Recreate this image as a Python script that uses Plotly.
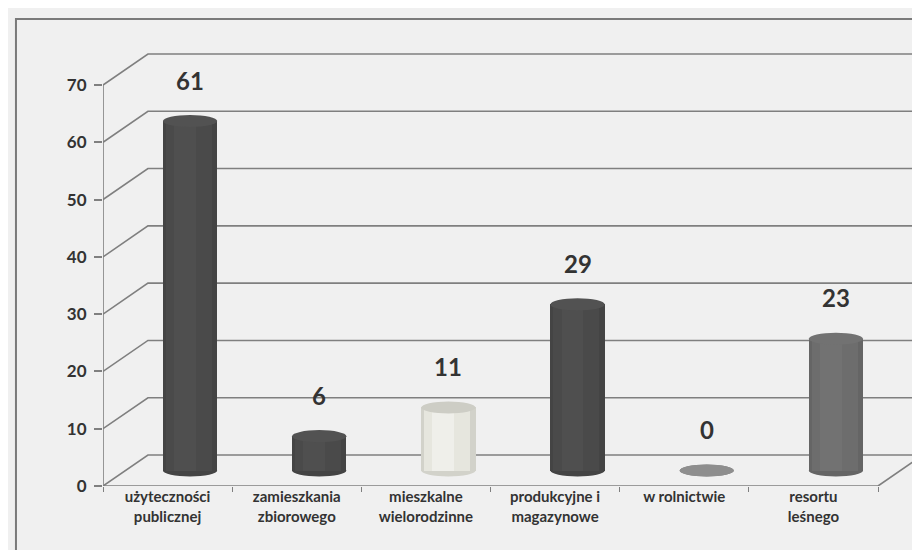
import plotly.graph_objects as go

# ---- data ----
categories = ["użyteczności<br>publicznej", "zamieszkania<br>zbiorowego", "mieszkalne<br>wielorodzinne",
              "produkcyjne i<br>magazynowe", "w rolnictwie", "resortu<br>leśnego"]
values = [61, 6, 11, 29, 0, 23]
y_ticks = [0, 10, 20, 30, 40, 50, 60, 70]

# ---- styling ----
bar_colors = ["#4a4a4a", "#4a4a4a", "#e6e6de", "#4a4a4a", "#8e8e8e", "#6d6d6d"]
edge_colors = ["#444444", "#444444", "#d2d2ca", "#444444", "#848484", "#656565"]
hi_colors = ["#4f4f4f", "#4f4f4f", "#efefea", "#4f4f4f", "#959595", "#727272"]
cap_colors = ["#525252", "#525252", "#cdcdc5", "#525252", "#8e8e8e", "#727272"]
BG = "#f0f0f0"
GRID = "#7f7f7f"
TXT = "#333333"
FONT = "Lato"

# 3D projection parameters (in axis units)
DX, DY = 0.348, 5.41        # depth offset of back wall
MX, MY = DX / 2, DY / 2     # bars stand at mid depth
BW = 0.42                   # cylinder width
EH = 2.1                    # ellipse height (value units)

n = len(categories)
xs = list(range(n))
xc = [x + MX for x in xs]

fig = go.Figure()

# cylinder bodies: layered bars for subtle shading
layers = [(1.0, edge_colors, 0.0), (0.85, bar_colors, -0.01), (0.4, hi_colors, -0.04)]
for frac, cols, off in layers:
    fig.add_trace(go.Bar(
        x=[c + off for c in xc], y=values, base=[MY] * n, width=BW * frac,
        marker=dict(color=cols, line=dict(width=0)), hoverinfo="skip", showlegend=False))

shapes = []
# back wall gridlines with slanted left part
x_left, x_right = -0.5, n - 0.5
for v in y_ticks:
    shapes.append(dict(type="path", layer="below",
                       path=f"M {x_left},{v} L {x_left + DX},{v + DY} L {x_right + DX},{v + DY}",
                       line=dict(color=GRID, width=1.6)))
# floor front edge and right slant edge
shapes.append(dict(type="path", layer="below",
                   path=f"M {x_left},0 L {x_right},0 L {x_right + DX},{DY}",
                   line=dict(color=GRID, width=1.6)))
# front vertical axis line
shapes.append(dict(type="line", layer="below", x0=x_left, x1=x_left, y0=0, y1=y_ticks[-1],
                   line=dict(color=GRID, width=1.6)))
# bottom ellipses (below bars) and top caps (above)
for i in range(n):
    shapes.append(dict(type="circle", layer="below", x0=xc[i] - BW / 2, x1=xc[i] + BW / 2,
                       y0=MY - EH / 2, y1=MY + EH / 2, fillcolor=edge_colors[i], line=dict(width=0)))
for i in range(n):
    top = MY + values[i]
    shapes.append(dict(type="circle", layer="above", x0=xc[i] - BW / 2, x1=xc[i] + BW / 2,
                       y0=top - EH / 2, y1=top + EH / 2, fillcolor=cap_colors[i], line=dict(width=0)))
# outer frame
shapes.append(dict(type="path", xref="paper", yref="paper",
                   path="M -0.1055,-0.2 L -0.1055,0.977 L 1.1,0.977",
                   line=dict(color="#7a7a7a", width=2)))

annotations = []
for i in range(n):
    annotations.append(dict(x=xc[i], y=values[i] + MY, text=str(values[i]), showarrow=False,
                            yshift=41, font=dict(family=FONT, size=24, color=TXT, weight="bold")))

fig.update_layout(
    width=920, height=550,
    margin=dict(l=95, r=0, t=0, b=72),
    paper_bgcolor=BG, plot_bgcolor=BG,
    barmode="overlay", bargap=0,
    shapes=shapes, annotations=annotations,
    xaxis=dict(range=[-0.5, 5.887], tickvals=xs, ticktext=categories, ticks="",
               showgrid=False, zeroline=False, showline=False,
               tickfont=dict(family=FONT, size=15, color=TXT, weight="bold"),
               minor=dict(ticks="outside", tick0=-0.5, dtick=1, ticklen=5, tickcolor=GRID, showgrid=False)),
    yaxis=dict(range=[0, 83.44], tickvals=y_ticks, ticks="outside", ticklen=8, tickcolor=GRID,
               tickwidth=1.5, showgrid=False, zeroline=False, showline=False,
               ticklabelstandoff=4,
               tickfont=dict(family=FONT, size=17, color=TXT, weight="bold")),
)

fig.write_html("out.html")
